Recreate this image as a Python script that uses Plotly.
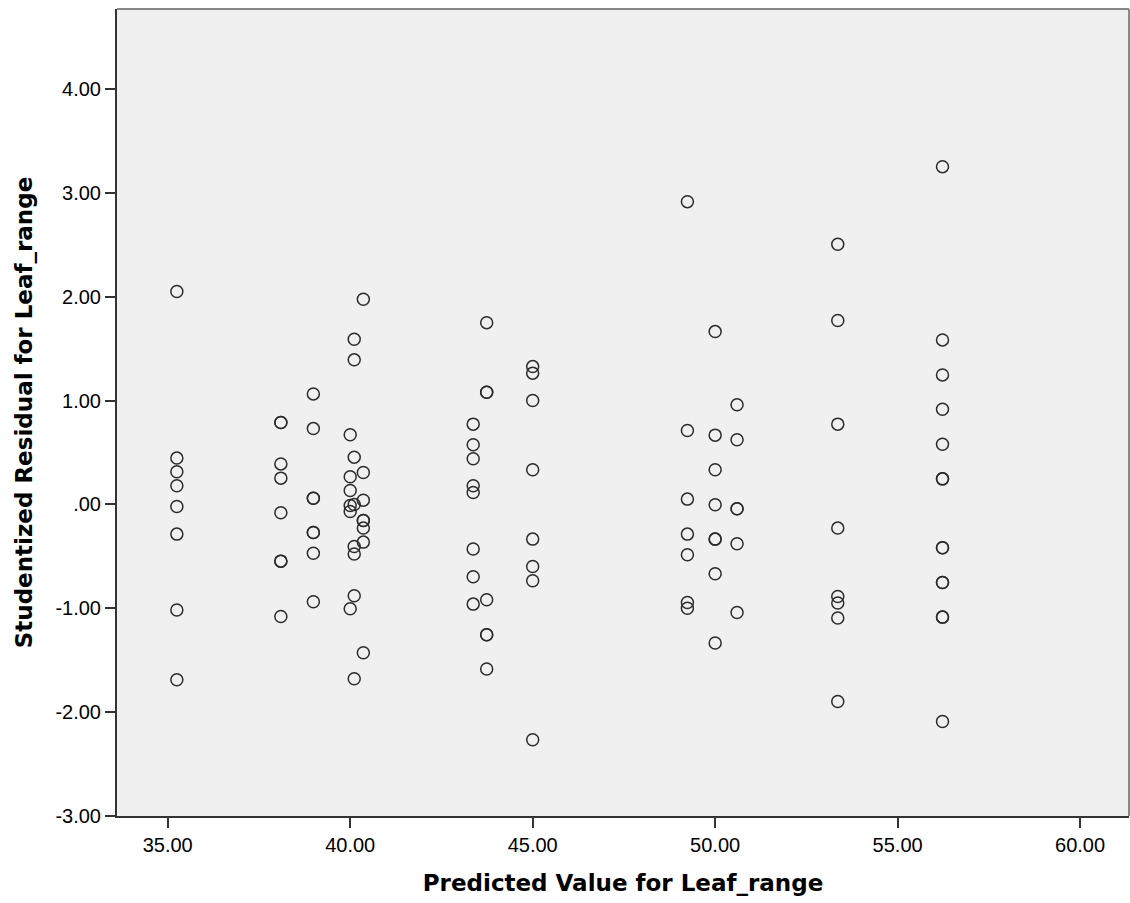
import plotly.graph_objects as go

# Predicted values (x) for each vertical group of points and their studentized residuals (y)
pred_groups = [35.25, 38.10, 38.99, 40.00, 40.11, 40.36, 43.37, 43.74, 45.00,
               49.24, 50.00, 50.60, 53.36, 56.23]
resid_3525 = [2.05, 0.446, 0.314, 0.179, -0.02, -0.286, -1.017, -1.688]
resid_3810 = [0.788, 0.788, 0.39, 0.253, -0.081, -0.546, -0.546, -1.079]
resid_3899 = [1.064, 0.73, 0.06, 0.06, -0.27, -0.27, -0.47, -0.937]
resid_4000 = [0.67, 0.266, 0.134, -0.01, -0.068, -1.005]
resid_4011 = [1.591, 1.392, 0.455, 0.0, -0.405, -0.478, -0.88, -1.678]
resid_4036 = [1.976, 0.307, 0.041, -0.155, -0.155, -0.228, -0.363, -1.428]
resid_4337 = [0.773, 0.574, 0.439, 0.179, 0.115, -0.43, -0.697, -0.96]
resid_4374 = [1.75, 1.08, 1.08, -0.918, -1.255, -1.255, -1.585]
resid_4500 = [1.327, 1.264, 1.0, 0.333, -0.334, -0.598, -0.735, -2.266]
resid_4924 = [2.915, 0.711, 0.051, -0.286, -0.485, -0.944, -1.0]
resid_5000 = [1.664, 0.667, 0.333, -0.004, -0.334, -0.334, -0.668, -1.335]
resid_5060 = [0.959, 0.622, -0.042, -0.042, -0.379, -1.04]
resid_5336 = [2.505, 1.77, 0.773, -0.228, -0.886, -0.95, -1.094, -1.897]
resid_5623 = [3.252, 1.584, 1.247, 0.917, 0.58, 0.246, 0.246, -0.418, -0.418,
              -0.752, -0.752, -1.085, -1.085, -2.09]

resid_groups = [resid_3525, resid_3810, resid_3899, resid_4000, resid_4011, resid_4036,
                resid_4337, resid_4374, resid_4500, resid_4924, resid_5000, resid_5060,
                resid_5336, resid_5623]

x_tickvals = [35, 40, 45, 50, 55, 60]
x_ticktext = ["35.00", "40.00", "45.00", "50.00", "55.00", "60.00"]
y_tickvals = [-3, -2, -1, 0, 1, 2, 3, 4]
y_ticktext = ["-3.00", "-2.00", "-1.00", ".00", "1.00", "2.00", "3.00", "4.00"]

xs, ys = [], []
for px, grp in zip(pred_groups, resid_groups):
    xs.extend([px] * len(grp))
    ys.extend(grp)

fig = go.Figure()
fig.add_trace(go.Scatter(
    x=xs, y=ys, mode="markers",
    marker=dict(symbol="circle-open", size=12, color="#2b2b2b",
                line=dict(width=1.5, color="#2b2b2b")),
    showlegend=False, hoverinfo="x+y"))

tick_font = dict(family="Liberation Sans, Arial, sans-serif", size=20, color="#000000")
title_font = dict(family="DejaVu Sans, Verdana, sans-serif", size=23, color="#000000")

fig.update_layout(
    width=1130, height=903,
    margin=dict(l=117, r=1, t=9, b=87),
    paper_bgcolor="white", plot_bgcolor="#F0F0F0",
    xaxis=dict(range=[33.61, 61.34], tickvals=x_tickvals, ticktext=x_ticktext,
               showgrid=False, zeroline=False, showline=True, linecolor="#333333",
               linewidth=2, ticks="outside", ticklen=10, tickwidth=2, tickcolor="#333333",
               tickfont=tick_font,
               title=dict(text="<b>Predicted Value for Leaf_range</b>", font=title_font,
                          standoff=20)),
    yaxis=dict(range=[-3, 4.77], tickvals=y_tickvals, ticktext=y_ticktext,
               showgrid=False, zeroline=False, showline=True, linecolor="#333333",
               linewidth=2, ticks="outside", ticklen=10, tickwidth=2, tickcolor="#333333",
               tickfont=tick_font,
               title=dict(text="<b>Studentized Residual for Leaf_range</b>", font=title_font,
                          standoff=16)),
    shapes=[
        dict(type="line", xref="paper", yref="paper", x0=0, x1=1, y0=1, y1=1,
             line=dict(color="#888888", width=2)),
        dict(type="line", xref="paper", yref="paper", x0=1, x1=1, y0=0, y1=1,
             line=dict(color="#888888", width=2)),
    ],
)

fig.write_html("out.html", config={"displayModeBar": False},
               post_script="document.body.style.margin='0';document.body.style.overflow='hidden';")
